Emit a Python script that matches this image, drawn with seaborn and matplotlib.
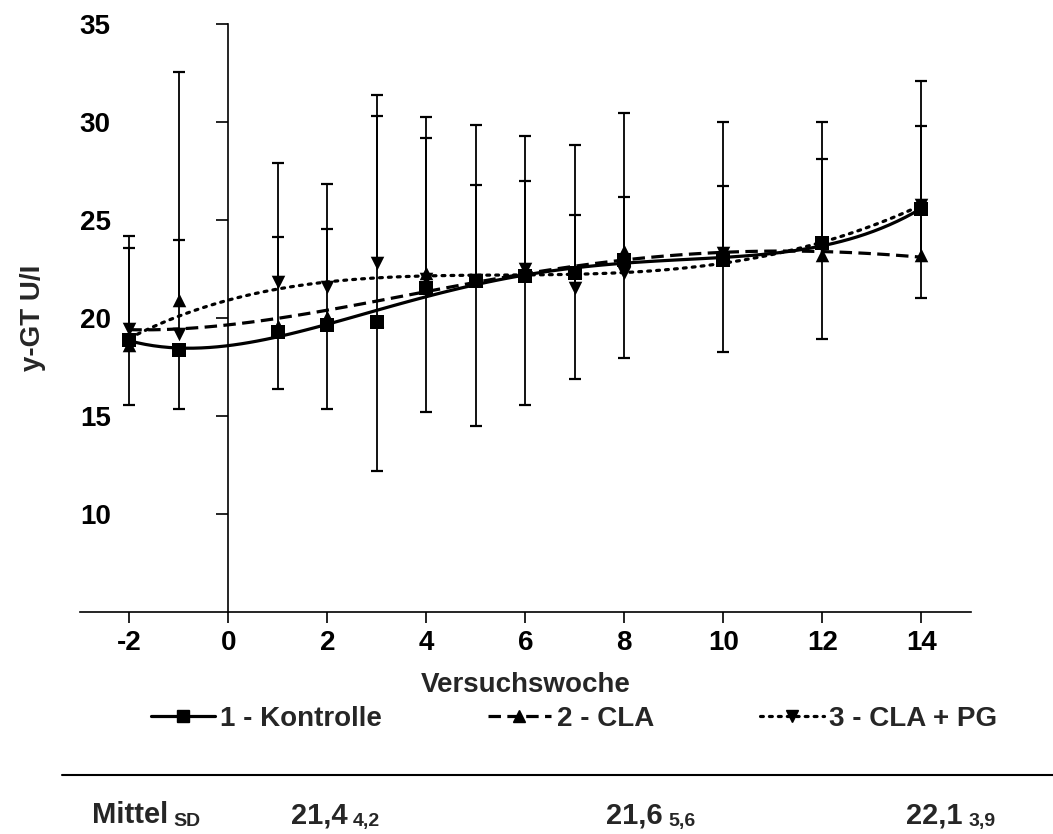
import numpy as np
import pandas as pd
import seaborn as sns
import matplotlib.pyplot as plt
from matplotlib.lines import Line2D

# ---------------- data ----------------
weeks = [-2, -1, 1, 2, 3, 4, 5, 6, 7, 8, 10, 12, 14]

kontrolle_mean = [18.87, 18.36, 19.28, 19.64, 19.8, 21.5, 21.9, 22.15, 22.3, 22.95, 22.95, 23.8, 25.55]
kontrolle_sd = [3.3, 3.0, 2.9, 4.3, 7.6, 6.3, 7.4, 6.6, 5.4, 5.0, 4.7, 4.9, 4.55]

cla_mean = [18.6, 20.9, 19.6, 20.05, 19.9, 22.3, 21.95, 22.2, 22.4, 23.4, 23.2, 23.2, 23.2]
cla_sd = [5.6, 11.65, 8.3, 6.8, 11.5, 7.95, 7.9, 7.1, 6.4, 7.05, 6.8, 6.8, 8.9]

clapg_mean = [19.45, 19.2, 21.83, 21.58, 22.8, 22.0, 21.95, 22.5, 21.5, 22.3, 23.3, 23.7, 25.75]
clapg_sd = [4.1, 4.75, 2.3, 2.95, 7.5, 7.2, 4.85, 4.5, 3.75, 3.85, 3.45, 4.4, 4.05]

group_labels = ["1 - Kontrolle", "2 - CLA", "3 - CLA + PG"]
overall_mean = ["21,4", "21,6", "22,1"]
overall_sd = ["4,2", "5,6", "3,9"]
summary_label = "Mittel"
summary_sub = "SD"

x_ticks = [-2, 0, 2, 4, 6, 8, 10, 12, 14]
y_ticks = [10, 15, 20, 25, 30, 35]
x_label = "Versuchswoche"
y_label = "y-GT U/I"

# ---------------- style ----------------
sns.set_theme(style="ticks")
plt.rcParams['font.family'] = ['Liberation Sans', 'DejaVu Sans']
plt.rcParams['font.weight'] = 'bold'
plt.rcParams['axes.labelweight'] = 'bold'

fig = plt.figure(figsize=(10.53, 8.34), dpi=100)
ax = fig.add_axes([0.0758, 0.2665, 0.8461, 0.7047])

styles = [
    dict(marker='s', dashes=None, round=False, err='down'),
    dict(marker='^', dashes=(3.9, 2.0), round=False, err='up'),
    dict(marker='v', dashes=(0.9, 1.9), round=True, err='up'),
]
means = [kontrolle_mean, cla_mean, clapg_mean]
sds = [kontrolle_sd, cla_sd, clapg_sd]

lw = 2.3
cap_ms = 12 / 1.389
for lab, m, s, st in zip(group_labels, means, sds, styles):
    df = pd.DataFrame({"week": weeks, "mean": m, "sd": s})
    if st['err'] == 'down':
        end = df["mean"] - df["sd"]
    else:
        end = df["mean"] + df["sd"]
    ax.vlines(df["week"], df["mean"], end, color='black', lw=1.3, zorder=2)
    ax.plot(df["week"], end, ls='none', marker='_', ms=cap_ms, mew=1.6, color='black', zorder=2)
    line_kws = dict(color='black', lw=lw, zorder=3)
    if st['dashes'] is not None:
        line_kws['dashes'] = st['dashes']
        if st['round']:
            line_kws['dash_capstyle'] = 'round'
    sns.regplot(data=df, x="week", y="mean", order=4, ci=None, scatter=False,
                truncate=True, ax=ax, line_kws=line_kws)
    sns.scatterplot(data=df, x="week", y="mean", marker=st['marker'], s=95,
                    color='black', edgecolor='black', linewidth=0, ax=ax, zorder=4)

ax.set_xlim(-3, 15)
ax.set_ylim(5, 35)
ax.spines['left'].set_position(('data', 0))
ax.spines['top'].set_visible(False)
ax.spines['right'].set_visible(False)
for sp in ['left', 'bottom']:
    ax.spines[sp].set_linewidth(1.2)
    ax.spines[sp].set_color('black')

ax.set_xticks(x_ticks)
ax.set_xticklabels([str(t) for t in x_ticks])
ax.set_yticks(y_ticks)
ax.set_yticklabels([str(t) for t in y_ticks])
ax.tick_params(axis='x', direction='out', length=8, width=1.2, pad=5, labelsize=20, colors='black')
ax.tick_params(axis='y', direction='out', length=8.6, width=1.2, pad=76, labelsize=20, colors='black')
for t in ax.get_xticklabels() + ax.get_yticklabels():
    t.set_fontweight('bold')

ax.set_xlabel(x_label, fontsize=20, fontweight='bold', labelpad=12)
ax.set_ylabel(y_label, fontsize=20, fontweight='bold')
ax.yaxis.set_label_coords((46 - 79.8) / 891, 0.5)

# legend
handles = []
for lab, st in zip(group_labels, styles):
    kw = dict(color='black', lw=lw, marker=st['marker'], ms=9)
    if st['dashes'] is not None:
        kw['dashes'] = st['dashes']
        if st['round']:
            kw['dash_capstyle'] = 'round'
    handles.append(Line2D([0], [0], **kw))
fig.legend(handles, group_labels, loc='center', bbox_to_anchor=(574 / 1053, 1 - 719 / 834),
           ncol=3, frameon=False, prop=dict(size=20, weight='bold'),
           handlelength=2.3, handletextpad=0.2, columnspacing=3.8)

# separator and summary row
fig.add_artist(Line2D([62 / 1053, 1.0], [1 - 775 / 834] * 2, color='black', lw=1.5))
ytxt = 1 - 823 / 834
xs = [92, 291, 606, 906]
t = fig.text(xs[0] / 1053, ytxt, summary_label, fontsize=21, fontweight='bold', va='baseline', ha='left')
ax.annotate(summary_sub, xy=(1, 0), xycoords=t, xytext=(4, -1), textcoords='offset points',
            fontsize=14, fontweight='bold', va='bottom', ha='left', annotation_clip=False)
for xp, mv, sv in zip(xs[1:], overall_mean, overall_sd):
    t = fig.text(xp / 1053, ytxt, mv, fontsize=21, fontweight='bold', va='baseline', ha='left')
    ax.annotate(sv, xy=(1, 0), xycoords=t, xytext=(4, -1), textcoords='offset points',
                fontsize=14, fontweight='bold', va='bottom', ha='left', annotation_clip=False)

fig.savefig("out.png", dpi=100)
